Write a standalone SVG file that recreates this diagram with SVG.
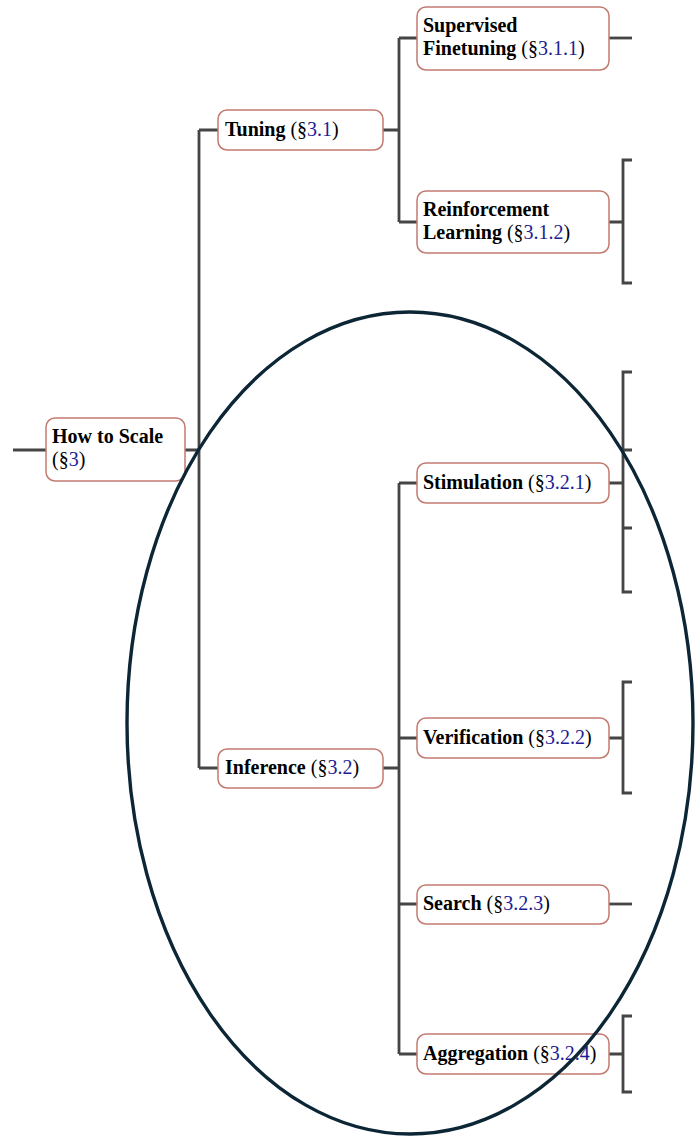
<svg xmlns="http://www.w3.org/2000/svg" width="695" height="1136" viewBox="0 0 695 1136">
  <style>
    .edge { fill: none; stroke: #454545; stroke-width: 2.8; }
    .box { fill: #ffffff; stroke: #c27a70; stroke-width: 1.5; }
    .lbl { font-family: "Liberation Serif", "Times New Roman", serif; font-size: 20px; fill: #000000; }
    .b { font-weight: bold; }
    .ref { fill: #1c1c94; }
    .ring { fill: none; stroke: #0c2636; stroke-width: 3.4; }
  </style>
  <rect width="695" height="1136" fill="#ffffff"/>

  <!-- connectors -->
  <g id="connectors">
    <path class="edge" d="M13 450 H46 M185 450 H199 M199 130 V768 M199 130 H218 M199 768 H218"/>
    <path class="edge" d="M383 130 H399 M399 38 V222 M399 38 H417 M399 222 H417"/>
    <path class="edge" d="M383 768 H399 M399 483 V1054 M399 483 H417 M399 738 H417 M399 904 H417 M399 1054 H417"/>
    <path class="edge" d="M609 38 H632"/>
    <path class="edge" d="M609 222 H623 M632 160 H623 V283 H632"/>
    <path class="edge" d="M609 483 H623 M632 372 H623 V592 H632 M623 450 H632 M623 528 H632"/>
    <path class="edge" d="M609 738 H623 M632 682 H623 V793 H632"/>
    <path class="edge" d="M609 904 H632"/>
    <path class="edge" d="M609 1054 H623 M632 1016 H623 V1092 H632"/>
  </g>

  <!-- nodes -->
  <g id="node-root">
    <rect class="box" x="46" y="418" width="139" height="63" rx="9"/>
    <text class="lbl b" x="52" y="443">How to Scale</text>
    <text class="lbl" x="52" y="466">(§<tspan class="ref">3</tspan>)</text>
  </g>
  <g id="node-tuning">
    <rect class="box" x="218" y="110" width="165" height="40" rx="9"/>
    <text class="lbl" x="225" y="136"><tspan class="b">Tuning</tspan> (§<tspan class="ref">3.1</tspan>)</text>
  </g>
  <g id="node-sft">
    <rect class="box" x="417" y="7" width="192" height="63" rx="9"/>
    <text class="lbl b" x="423" y="32">Supervised</text>
    <text class="lbl" x="423" y="55"><tspan class="b">Finetuning</tspan> (§<tspan class="ref">3.1.1</tspan>)</text>
  </g>
  <g id="node-rl">
    <rect class="box" x="417" y="191" width="192" height="62" rx="9"/>
    <text class="lbl b" x="423" y="216">Reinforcement</text>
    <text class="lbl" x="423" y="239"><tspan class="b">Learning</tspan> (§<tspan class="ref">3.1.2</tspan>)</text>
  </g>
  <g id="node-inference">
    <rect class="box" x="218" y="749" width="165" height="39" rx="9"/>
    <text class="lbl" x="225" y="774"><tspan class="b">Inference</tspan> (§<tspan class="ref">3.2</tspan>)</text>
  </g>
  <g id="node-stimulation">
    <rect class="box" x="417" y="463" width="192" height="40" rx="9"/>
    <text class="lbl" x="423" y="489"><tspan class="b">Stimulation</tspan> (§<tspan class="ref">3.2.1</tspan>)</text>
  </g>
  <g id="node-verification">
    <rect class="box" x="417" y="718" width="192" height="40" rx="9"/>
    <text class="lbl" x="423" y="744"><tspan class="b">Verification</tspan> (§<tspan class="ref">3.2.2</tspan>)</text>
  </g>
  <g id="node-search">
    <rect class="box" x="417" y="885" width="192" height="39" rx="9"/>
    <text class="lbl" x="423" y="910"><tspan class="b">Search</tspan> (§<tspan class="ref">3.2.3</tspan>)</text>
  </g>
  <g id="node-aggregation">
    <rect class="box" x="417" y="1034" width="192" height="40" rx="9"/>
    <text class="lbl" x="423" y="1060"><tspan class="b">Aggregation</tspan> (§<tspan class="ref">3.2.4</tspan>)</text>
  </g>

  <!-- highlight ring around the inference branch -->
  <ellipse class="ring" cx="410" cy="723" rx="283" ry="411"/>
</svg>
